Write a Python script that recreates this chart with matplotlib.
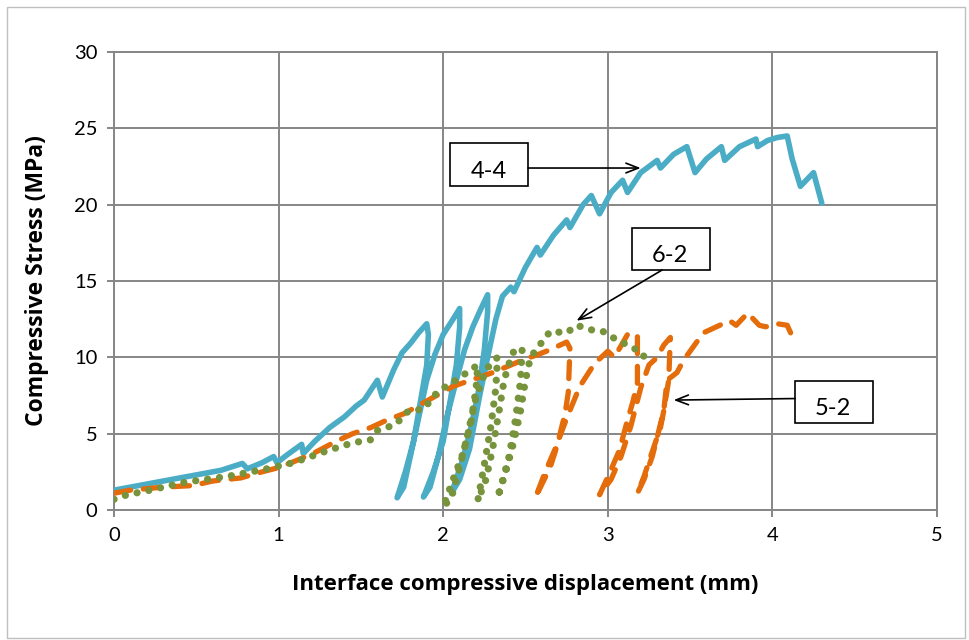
import matplotlib
matplotlib.use("Agg")
import matplotlib.pyplot as plt
from matplotlib.patches import Rectangle

# ---- data ----
x_44 = [0, 0.1, 0.3, 0.5, 0.65, 0.78, 0.81, 0.9, 0.97, 0.99, 1.05, 1.14, 1.15, 1.22, 1.31, 1.4, 1.47, 1.52, 1.6, 1.63,
        1.7, 1.75, 1.8, 1.85, 1.9,
        1.91, 1.9, 1.86, 1.82, 1.77, 1.72,
        1.76, 1.8, 1.85, 1.9, 1.95, 2.0, 2.06, 2.1,
        2.1, 2.08, 2.04, 2.0, 1.94, 1.88,
        1.92, 1.97, 2.02, 2.08, 2.13, 2.18, 2.23, 2.27,
        2.27, 2.25, 2.21, 2.16, 2.11, 2.05,
        2.1, 2.16, 2.22, 2.27, 2.32, 2.36, 2.41, 2.43, 2.5, 2.57, 2.59, 2.67, 2.75, 2.77, 2.85, 2.9, 2.95,
        3.02, 3.09, 3.12, 3.2, 3.3, 3.32, 3.4, 3.48, 3.53, 3.6, 3.69, 3.71, 3.8, 3.9, 3.91, 3.97, 4.03,
        4.09, 4.12, 4.17, 4.25, 4.3]
y_44 = [1.3, 1.5, 1.9, 2.3, 2.6, 3.05, 2.7, 3.1, 3.5, 3.1, 3.6, 4.3, 3.7, 4.5, 5.4, 6.1, 6.8, 7.2, 8.5, 7.4,
        9.2, 10.3, 10.9, 11.6, 12.2,
        11.5, 9.5, 7.0, 4.5, 2.5, 0.8,
        1.5, 3.5, 6.0, 8.5, 10.2, 11.5, 12.5, 13.2,
        12.0, 9.5, 7.0, 4.5, 2.5, 0.85,
        1.5, 3.5, 6.0, 8.5, 10.5, 12.0, 13.2, 14.1,
        13.0, 10.5, 7.5, 5.0, 3.0, 1.1,
        2.0, 4.0, 7.4, 10.0, 12.5, 14.0, 14.6, 14.3, 15.9, 17.2, 16.7, 18.0, 19.0, 18.5, 20.0, 20.6, 19.4,
        20.8, 21.6, 20.8, 22.1, 22.9, 22.4, 23.3, 23.8, 22.1, 23.0, 23.8, 22.9, 23.8, 24.3, 23.8, 24.2, 24.4,
        24.5, 23.0, 21.2, 22.1, 20.1]

x_52 = [0, 0.1, 0.3, 0.48, 0.6, 0.77, 0.9, 0.99, 1.1, 1.21, 1.35, 1.45, 1.56, 1.66, 1.76, 1.86, 1.96, 2.06, 2.14,
        2.22, 2.3, 2.39, 2.5, 2.58, 2.65, 2.75, 2.77,
        2.76, 2.74, 2.71, 2.68, 2.65, 2.6, 2.56,
        2.62, 2.68, 2.75, 2.83, 2.92, 3.0, 3.04, 3.12, 3.18,
        3.18, 3.15, 3.12, 3.07, 3.01, 2.95,
        3.02, 3.08, 3.14, 3.2, 3.25, 3.3, 3.34, 3.38,
        3.37, 3.34, 3.32, 3.26, 3.22, 3.18,
        3.22, 3.27, 3.31, 3.34, 3.36, 3.42, 3.46, 3.52, 3.58, 3.66, 3.74, 3.78, 3.85, 3.92, 3.96, 4.03,
        4.09, 4.14]
y_52 = [1.1, 1.3, 1.5, 1.6, 1.9, 2.1, 2.5, 2.75, 3.2, 3.7, 4.5, 5.0, 5.4, 5.9, 6.3, 6.9, 7.5, 8.1, 8.4,
        8.7, 9.0, 9.4, 9.9, 10.2, 10.5, 11.0, 10.6,
        7.7, 6.3, 5.0, 3.8, 2.8, 1.7, 0.8,
        2.5, 4.0, 6.0, 8.1, 9.6, 10.4, 10.0, 11.5, 11.5,
        8.3, 7.0, 5.9, 3.9, 2.4, 1.0,
        2.0, 3.5, 5.5, 8.0, 9.5, 10.0, 10.8, 11.3,
        8.5, 6.5, 5.4, 3.5, 2.2, 1.1,
        2.0, 3.5, 5.2, 6.5, 8.5, 9.0, 9.8, 10.7, 11.6, 12.0, 12.4, 12.1, 12.9, 12.1, 12.0, 12.2,
        12.1, 10.9]

x_62 = [0, 0.08, 0.22, 0.42, 0.69, 0.93, 1.09, 1.3, 1.45, 1.56, 1.6, 1.71, 1.79, 1.88, 1.97, 2.05, 2.13, 2.21,
        2.2, 2.17, 2.12, 2.06, 2.0,
        2.05, 2.1, 2.15, 2.2, 2.26, 2.33,
        2.32, 2.29, 2.25, 2.21,
        2.26, 2.3, 2.34, 2.37, 2.42, 2.48,
        2.47, 2.44, 2.4, 2.35, 2.33,
        2.38, 2.43, 2.47, 2.5, 2.53, 2.6, 2.65, 2.75, 2.81, 2.9, 2.97, 3.03, 3.12, 3.21, 3.24]
y_62 = [0.7, 1.0, 1.3, 1.8, 2.2, 2.7, 3.1, 3.9, 4.4, 4.6, 5.2, 5.6, 6.5, 6.6, 7.8, 8.3, 8.9, 9.5,
        8.0, 5.8, 3.7, 2.0, 0.2,
        0.8, 2.8, 5.0, 7.4, 9.2, 10.0,
        8.0, 5.5, 3.0, 0.6,
        2.0, 4.0, 6.5, 8.5, 10.3, 10.6,
        8.5, 6.0, 3.5, 1.5, 0.8,
        2.5, 4.5, 6.5, 8.5, 10.0, 11.0, 11.7, 11.6, 12.1, 11.8, 11.7, 11.3, 10.8, 10.3, 9.5]

x_ticks = [0, 1, 2, 3, 4, 5]
y_ticks = [0, 5, 10, 15, 20, 25, 30]
x_label = "Interface compressive displacement (mm)"
y_label = "Compressive Stress (MPa)"

c_blue = "#4BACC6"
c_orange = "#E46C0A"
c_green = "#77933C"
grid_c = "#868686"

plt.rcParams['font.family'] = ['Lato', 'DejaVu Sans']

fig = plt.figure(figsize=(9.69, 6.4), dpi=100)
ax = fig.add_axes([114/969, 1-510/640, (937-114)/969, (510-52)/640])

ax.plot(x_44, y_44, color=c_blue, lw=4.0, solid_joinstyle='round', solid_capstyle='round', zorder=3)
ax.plot(x_52, y_52, color=c_orange, lw=3.8, linestyle=(0, (3.2, 2.4)), dash_capstyle='round',
        dash_joinstyle='round', zorder=4)
ax.plot(x_62, y_62, color=c_green, lw=5.2, linestyle=(0, (0.01, 1.65)), dash_capstyle='round', zorder=5)

ax.set_xlim(0, 5)
ax.set_ylim(0, 30)
ax.set_xticks(x_ticks)
ax.set_yticks(y_ticks)
ax.set_xticklabels([str(v) for v in x_ticks], fontsize=14.5)
ax.set_yticklabels([str(v) for v in y_ticks], fontsize=14.5)
ax.grid(True, color=grid_c, lw=1.4, zorder=0)
ax.set_axisbelow(True)
for s in ax.spines.values():
    s.set_color(grid_c)
    s.set_linewidth(1.4)
ax.tick_params(axis='both', direction='out', length=5, width=1.4, color=grid_c, pad=7)

ax.set_xlabel(x_label, fontsize=16, fontweight='bold', labelpad=22, family=['Open Sans', 'DejaVu Sans'])
ax.set_ylabel(y_label, fontsize=16.5, fontweight='bold', labelpad=18, family=['Open Sans', 'DejaVu Sans'])

# annotation boxes
def label_box(x0, y0, x1, y1, text, tx, ty):
    ax.add_patch(Rectangle((x0, y0), x1 - x0, y1 - y0, facecolor='white', edgecolor='black',
                           lw=1.2, zorder=6, clip_on=False))
    ax.text(tx, ty, text, fontsize=17, ha='center', va='center', zorder=7)

arrow = dict(arrowstyle='->,head_length=0.9,head_width=0.35', color='black', lw=1.2,
             shrinkA=0, shrinkB=0)
label_box(2.04, 21.2, 2.515, 24.03, "4-4", 2.28, 22.2)
ax.annotate("", xy=(3.2, 22.4), xytext=(2.515, 22.4), arrowprops=arrow, zorder=8)
label_box(3.147, 15.72, 3.621, 18.47, "6-2", 3.38, 16.7)
ax.annotate("", xy=(2.81, 12.4), xytext=(3.33, 15.72), arrowprops=arrow, zorder=8)
label_box(4.137, 5.70, 4.611, 8.45, "5-2", 4.37, 6.65)
ax.annotate("", xy=(3.40, 7.2), xytext=(4.137, 7.3), arrowprops=arrow, zorder=8)

# outer frame
fig.patches.append(Rectangle((7/969, 2/640), 958/969, 631/640, transform=fig.transFigure,
                             fill=False, edgecolor='#BFBFBF', lw=1.0))

fig.savefig("out.png", dpi=100)
